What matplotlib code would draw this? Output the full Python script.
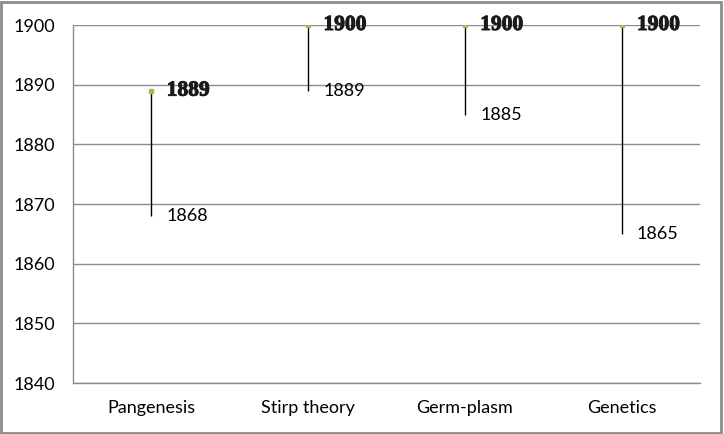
import matplotlib.pyplot as plt
import matplotlib.patheffects as pe
from matplotlib.patches import Rectangle

# data
theories = ['Pangenesis', 'Stirp theory', 'Germ-plasm', 'Genetics']
start_year = [1868, 1889, 1885, 1865]
end_year = [1889, 1900, 1900, 1900]
y_ticks = [1840, 1850, 1860, 1870, 1880, 1890, 1900]

sans = ['Lato', 'DejaVu Sans']
serif = ['Liberation Serif', 'DejaVu Serif']

fig = plt.figure(figsize=(7.24, 4.34), dpi=100)
ax = fig.add_axes([73 / 724, 1 - 383 / 434, 627 / 724, 358 / 434])

x = list(range(len(theories)))
ax.vlines(x, start_year, end_year, color='black', lw=1, zorder=3)
ax.plot(x, end_year, ls='none', marker='s', ms=2.5, color='#a4b85a',
        mec='#a4b85a', zorder=4)

for xi, lo, hi in zip(x, start_year, end_year):
    ax.annotate(str(hi), (xi, hi), xytext=(11, 0), textcoords='offset points',
                ha='left', va='center', fontsize=15.5, fontweight='bold',
                family=serif, color='#1a1a1a',
                path_effects=[pe.withStroke(linewidth=0.7, foreground='#1a1a1a')])
    ax.annotate(str(lo), (xi, lo), xytext=(11, 0), textcoords='offset points',
                ha='left', va='center', fontsize=13, family=sans, color='black')

ax.set_xlim(-0.5, len(theories) - 0.5)
ax.set_ylim(1840, 1900)
ax.set_yticks(y_ticks)
ax.set_yticklabels([str(v) for v in y_ticks], family=sans, fontsize=13)
ax.set_xticks(x)
ax.set_xticklabels(theories, family=sans, fontsize=13)
ax.tick_params(axis='y', length=0, pad=13)
ax.tick_params(axis='x', length=0, pad=12)
ax.yaxis.grid(True, color='#8c8c8c', lw=1)
ax.set_axisbelow(True)
for side in ['top', 'right']:
    ax.spines[side].set_visible(False)
for side in ['left', 'bottom']:
    ax.spines[side].set_color('#8c8c8c')
    ax.spines[side].set_linewidth(1)

fig.patches.append(Rectangle((0.002, 0.003), 0.994, 0.992, transform=fig.transFigure,
                             fill=False, edgecolor='#8c8c8c', lw=2))

fig.savefig('out.png', dpi=100)
